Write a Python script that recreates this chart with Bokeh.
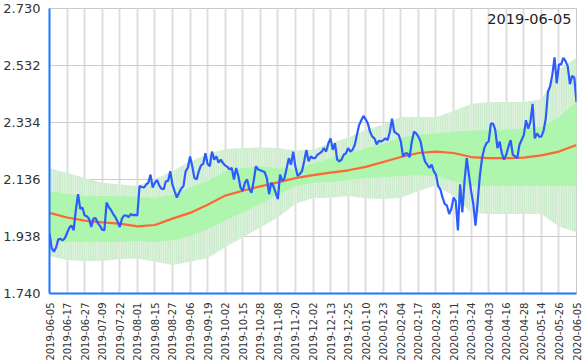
from bokeh.plotting import figure
from bokeh.models import FixedTicker, Range1d, Label, PrintfTickFormatter, ColumnDataSource
from bokeh.embed import file_html
from bokeh.resources import INLINE
import math

tick_labels = ["2019-06-05","2019-06-17","2019-06-27","2019-07-09","2019-07-22","2019-08-01",
               "2019-08-15","2019-08-27","2019-09-06","2019-09-19","2019-10-02","2019-10-15",
               "2019-10-28","2019-11-08","2019-11-20","2019-12-02","2019-12-13","2019-12-25",
               "2020-01-10","2020-01-23","2020-02-04","2020-02-17","2020-02-28","2020-03-11",
               "2020-03-24","2020-04-03","2020-04-16","2020-04-28","2020-05-14","2020-05-26",
               "2020-06-05"]
title_date = "2019-06-05"
y_ticks = [1.740, 1.938, 2.136, 2.334, 2.532, 2.730]

close = [
1.949,1.898,1.885,1.900,1.928,1.930,1.925,1.932,1.950,1.968,
1.976,1.960,2.030,2.085,2.034,2.039,2.011,2.008,2.000,1.971,
2.000,2.002,1.985,1.975,1.962,1.960,2.056,2.040,2.030,2.016,
2.005,1.990,1.971,2.000,2.011,2.011,2.005,2.016,2.012,2.013,
2.011,2.113,2.110,2.108,2.118,2.125,2.153,2.108,2.125,2.134,
2.115,2.104,2.102,2.130,2.131,2.165,2.118,2.095,2.073,2.090,
2.105,2.113,2.165,2.176,2.216,2.182,2.142,2.136,2.165,2.185,
2.190,2.227,2.190,2.182,2.233,2.205,2.216,2.195,2.205,2.193,
2.185,2.180,2.171,2.176,2.136,2.176,2.148,2.108,2.096,2.125,
2.136,2.102,2.090,2.131,2.182,2.171,2.168,2.165,2.162,2.140,
2.085,2.125,2.112,2.090,2.068,2.153,2.131,2.140,2.175,2.210,
2.188,2.233,2.180,2.148,2.155,2.165,2.200,2.239,2.199,2.216,
2.210,2.210,2.222,2.227,2.233,2.245,2.233,2.262,2.279,2.239,
2.262,2.205,2.199,2.205,2.222,2.227,2.245,2.233,2.239,2.256,
2.291,2.325,2.342,2.357,2.345,2.330,2.302,2.285,2.279,2.258,
2.270,2.268,2.273,2.279,2.273,2.302,2.347,2.302,2.296,2.291,
2.268,2.216,2.227,2.227,2.213,2.268,2.302,2.296,2.285,2.268,
2.227,2.199,2.188,2.176,2.188,2.165,2.153,2.113,2.102,2.073,
2.051,2.045,2.016,2.034,2.073,2.062,1.959,2.119,2.022,2.130,
2.210,2.153,2.096,2.051,1.976,2.060,2.150,2.210,2.245,2.262,
2.268,2.330,2.330,2.308,2.245,2.268,2.227,2.205,2.222,2.250,
2.273,2.222,2.216,2.210,2.256,2.273,2.290,2.342,2.313,2.336,
2.399,2.279,2.296,2.285,2.285,2.305,2.347,2.440,2.460,2.500,
2.560,2.470,2.536,2.536,2.559,2.547,2.530,2.467,2.496,2.490,
2.405]

# values read at every tick date (every 8th trading day)
ma_line = [2.020,2.004,1.993,1.987,1.983,1.973,1.978,2.000,2.020,2.048,
           2.080,2.097,2.112,2.126,2.141,2.151,2.160,2.168,2.180,2.197,
           2.214,2.228,2.233,2.228,2.214,2.210,2.210,2.212,2.220,2.233,2.256]
outer_top = [2.175,2.159,2.141,2.125,2.119,2.113,2.137,2.165,2.199,2.223,
             2.242,2.245,2.247,2.245,2.237,2.239,2.264,2.281,2.309,2.326,
             2.353,2.353,2.352,2.374,2.398,2.405,2.405,2.405,2.415,2.518,2.559]
inner_top = [2.096,2.086,2.079,2.079,2.079,2.076,2.072,2.083,2.107,2.131,
             2.165,2.175,2.182,2.175,2.172,2.192,2.209,2.226,2.244,2.261,
             2.281,2.292,2.296,2.302,2.305,2.307,2.309,2.312,2.319,2.353,2.405]
inner_bottom = [1.919,1.918,1.918,1.918,1.919,1.922,1.919,1.925,1.939,1.963,
                1.994,2.022,2.051,2.083,2.113,2.124,2.127,2.134,2.141,2.144,
                2.148,2.151,2.148,2.131,2.113,2.113,2.113,2.113,2.113,2.113,2.113]
outer_bottom = [1.870,1.856,1.853,1.853,1.860,1.862,1.850,1.839,1.850,1.863,
                1.901,1.935,1.970,2.004,2.052,2.072,2.073,2.079,2.071,2.068,
                2.073,2.096,2.116,2.079,2.021,2.016,2.016,2.016,2.016,1.973,1.953]

n_days = len(close)
day_idx = list(range(n_days))
tick_pos = [i * 8 for i in range(len(tick_labels))]

p = figure(frame_width=527, frame_height=285,
           x_range=Range1d(0, n_days - 1), y_range=Range1d(y_ticks[0], y_ticks[-1]),
           output_backend="svg", toolbar_location=None,
           min_border_left=0, min_border_right=7, min_border_top=8, min_border_bottom=0)

p.outline_line_color = "#c8c8c8"
p.outline_line_width = 1

band_src = ColumnDataSource(dict(x=tick_pos, ot=outer_top, it=inner_top,
                                 ib=inner_bottom, ob=outer_bottom, ma=ma_line))
p.varea(x="x", y1="ob", y2="ot", source=band_src, fill_color="#cdeccd",
        hatch_pattern="vertical_line", hatch_color="white", hatch_alpha=0.5,
        hatch_scale=2.2, hatch_weight=1)
p.varea(x="x", y1="ib", y2="it", source=band_src, fill_color="#aef5ae")
p.line(x="x", y="ma", source=band_src, line_color="#ff6633", line_width=2.2)
p.line(x=day_idx, y=close, line_color="#2b5cff", line_width=2.2)

# axes
p.xaxis.ticker = FixedTicker(ticks=tick_pos)
p.xaxis.major_label_overrides = {pos: lab for pos, lab in zip(tick_pos, tick_labels)}
p.xaxis.major_label_orientation = math.pi / 2
p.xaxis.major_label_text_font = "DejaVu Sans"
p.xaxis.major_label_text_font_size = "10px"
p.xaxis.major_label_text_color = "#333333"
p.xaxis.major_label_standoff = 3
p.yaxis.ticker = FixedTicker(ticks=y_ticks)
p.yaxis.formatter = PrintfTickFormatter(format="%.3f")
p.yaxis.major_label_text_font = "DejaVu Sans"
p.yaxis.major_label_text_font_size = "13px"
p.yaxis.major_label_text_color = "#333333"
p.yaxis.major_label_standoff = 3
for ax in (p.xaxis, p.yaxis):
    ax.axis_line_color = "#1a7aff"
    ax.axis_line_width = 2
    ax.major_tick_line_color = None
    ax.minor_tick_line_color = None

p.xgrid.ticker = FixedTicker(ticks=tick_pos)
p.xgrid.grid_line_color = "#dedede"
p.xgrid.grid_line_width = 2
p.ygrid.ticker = FixedTicker(ticks=y_ticks)
p.ygrid.grid_line_color = "#cccccc"
p.ygrid.grid_line_width = 1

title = Label(x=n_days - 1, y=y_ticks[-1], text=title_date, text_align="right",
              text_baseline="top", x_offset=-5, y_offset=-5,
              text_font="DejaVu Sans", text_font_size="14.5px", text_color="#222222")
p.add_layout(title)

open("out.html", "w").write(file_html(p, INLINE))
